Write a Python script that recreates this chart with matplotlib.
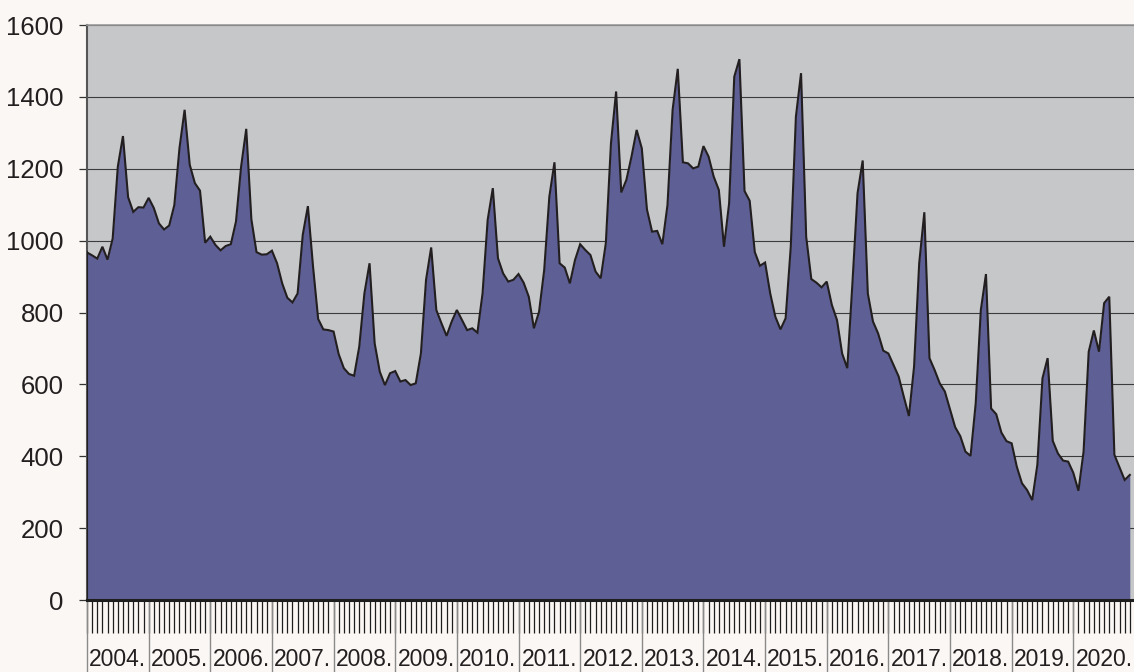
import matplotlib
matplotlib.use("Agg")
import matplotlib.pyplot as plt
import numpy as np

years = ["2004.", "2005.", "2006.", "2007.", "2008.", "2009.", "2010.", "2011.",
         "2012.", "2013.", "2014.", "2015.", "2016.", "2017.", "2018.", "2019.", "2020."]

v2004 = [967, 959, 950, 983, 947, 1006, 1206, 1291, 1121, 1080, 1093, 1092]
v2005 = [1119, 1091, 1048, 1031, 1042, 1099, 1257, 1364, 1211, 1160, 1139, 994]
v2006 = [1011, 988, 973, 985, 990, 1053, 1206, 1311, 1059, 968, 961, 962]
v2007 = [972, 937, 881, 841, 828, 853, 1016, 1096, 928, 782, 753, 751]
v2008 = [747, 684, 645, 629, 624, 705, 853, 937, 714, 635, 598, 631]
v2009 = [637, 608, 612, 598, 603, 686, 891, 981, 807, 770, 735, 775]
v2010 = [807, 779, 751, 756, 744, 853, 1058, 1146, 951, 909, 886, 891]
v2011 = [907, 883, 844, 756, 802, 918, 1122, 1218, 937, 925, 881, 946]
v2012 = [990, 974, 960, 914, 895, 993, 1271, 1415, 1134, 1169, 1234, 1308]
v2013 = [1257, 1087, 1025, 1027, 990, 1099, 1364, 1478, 1218, 1215, 1201, 1206]
v2014 = [1263, 1234, 1178, 1141, 983, 1104, 1456, 1505, 1138, 1111, 968, 930]
v2015 = [939, 853, 788, 753, 784, 983, 1345, 1466, 1011, 893, 883, 870]
v2016 = [886, 821, 779, 686, 645, 881, 1132, 1223, 853, 775, 742, 694]
v2017 = [686, 654, 622, 566, 512, 649, 937, 1079, 673, 640, 603, 580]
v2018 = [531, 481, 456, 413, 401, 547, 807, 907, 533, 517, 466, 442]
v2019 = [436, 371, 325, 306, 278, 376, 617, 673, 443, 408, 388, 385]
v2020 = [354, 304, 413, 691, 750, 691, 826, 844, 404, 369, 334, 348]

values = (v2004 + v2005 + v2006 + v2007 + v2008 + v2009 + v2010 + v2011 + v2012 +
          v2013 + v2014 + v2015 + v2016 + v2017 + v2018 + v2019 + v2020)
y_ticks = [0, 200, 400, 600, 800, 1000, 1200, 1400, 1600]

FONT = ["Liberation Sans", "DejaVu Sans"]
W, H = 1134, 672
fig = plt.figure(figsize=(W / 100, H / 100), dpi=100, facecolor="#fbf7f4")

ax_left, ax_bottom, ax_top = 87, 600, 25
n = len(values)
px_per_month = 5.137
ax_w = n * px_per_month
ax = fig.add_axes([ax_left / W, (H - ax_bottom) / H, ax_w / W, (ax_bottom - ax_top) / H])
ax.set_facecolor("#c6c7c9")

x = np.arange(n)
ax.fill_between(x, values, 0, color="#5e5f95", linewidth=0, zorder=2)
ax.plot(x, values, color="#231f20", lw=1.5, zorder=3, solid_joinstyle="miter")
ax.plot([0, 0], [0, values[0]], color="#231f20", lw=1.5, zorder=3)

ax.set_xlim(0, n)
ax.set_ylim(0, 1600)
ax.set_yticks(y_ticks)
ax.set_yticklabels([str(t) for t in y_ticks], fontfamily=FONT, fontsize=18.5, color="#231f20")
ax.yaxis.grid(True, color="#3c3c3c", lw=0.8, zorder=1)
ax.set_axisbelow(True)
ax.tick_params(axis="y", direction="out", length=5.8, width=0.9, color="#333333", pad=11)

ax.set_xticks(np.arange(0, n + 1))
ax.set_xticklabels([])
ax.tick_params(axis="x", direction="out", length=23.8, width=0.9, color="#1e1e1e")

ax.spines["right"].set_visible(False)
ax.spines["top"].set_color("#9a9a9a")
ax.spines["top"].set_linewidth(1.2)
ax.spines["left"].set_color("#555555")
ax.spines["left"].set_linewidth(1.5)
ax.spines["bottom"].set_color("#1e1e1e")
ax.spines["bottom"].set_linewidth(2.2)
ax.spines["bottom"].set_zorder(4)

trans = ax.get_xaxis_transform()
h_ax = ax_bottom - ax_top
for k in range(len(years) + 1):
    ax.plot([12 * k, 12 * k], [0, -(H - ax_bottom) / h_ax], transform=trans,
            color="#8a8a8a", lw=1.0, clip_on=False, zorder=1)
for k, yl in enumerate(years):
    ax.text(12 * k + 6, -66.0 / h_ax, yl, transform=trans, ha="center", va="baseline",
            fontsize=16.5, fontfamily=FONT, color="#231f20", clip_on=False)

fig.savefig("out.png", dpi=100, facecolor=fig.get_facecolor())
